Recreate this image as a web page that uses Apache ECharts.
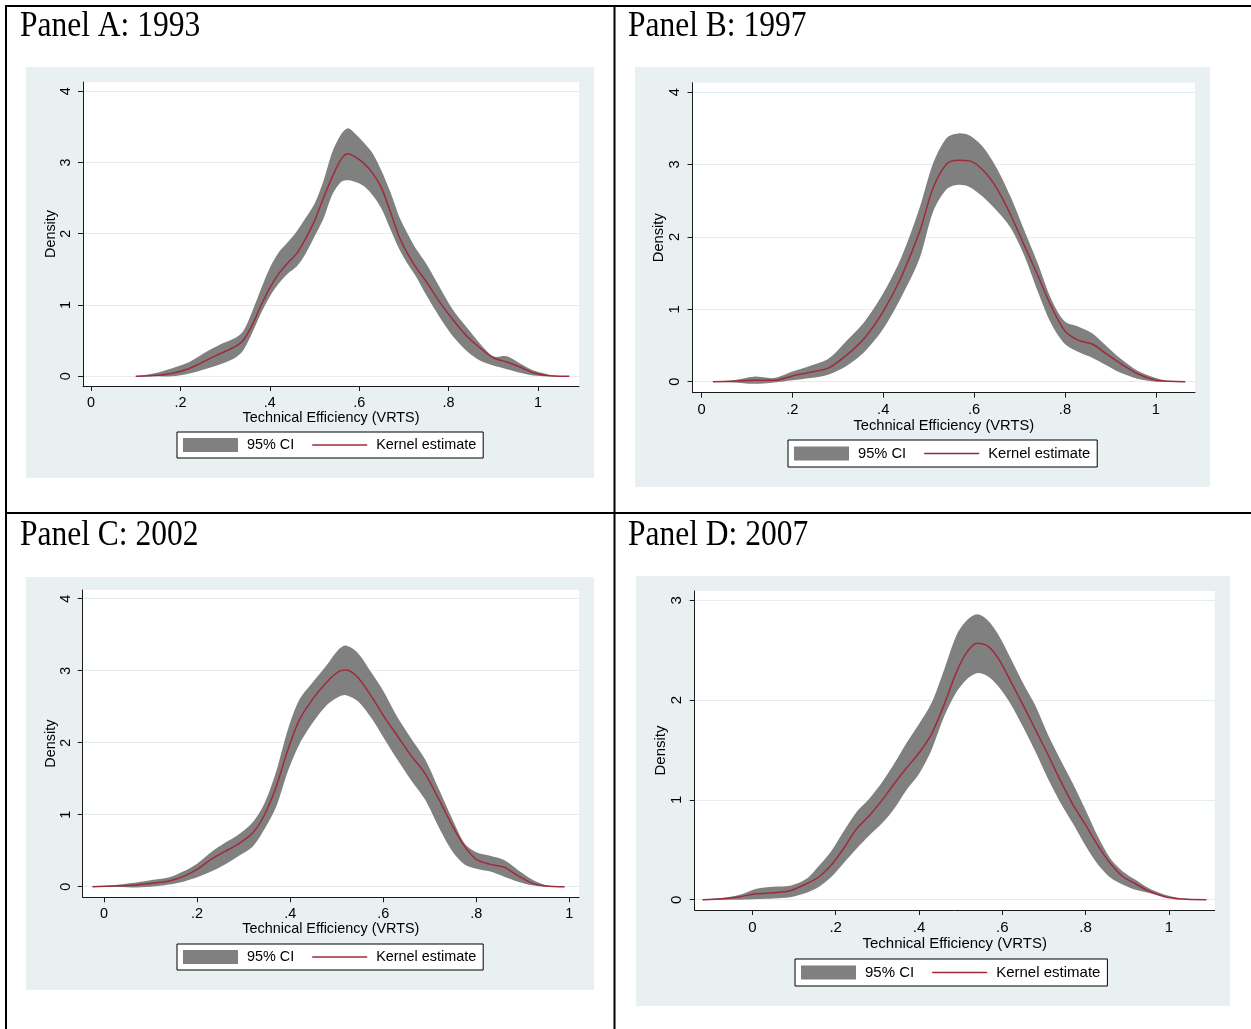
<!DOCTYPE html>
<html>
<head>
<meta charset="utf-8">
<script src="https://cdn.jsdelivr.net/npm/echarts@6.0.0/dist/echarts.min.js"></script>
<style>
  html, body { margin: 0; padding: 0; background: #fff; }
  #chart { width: 1251px; height: 1029px; }
</style>
</head>
<body>
<div id="chart"></div>
<script>
// ---- Kernel density of technical efficiency (VRTS), with 95% confidence band ----

// Panel A: 1993
const xA   = [0.10, 0.14, 0.18, 0.22, 0.26, 0.29, 0.32, 0.34, 0.36, 0.38, 0.40, 0.42, 0.44, 0.46, 0.48, 0.50, 0.52, 0.54, 0.56, 0.575, 0.59, 0.61, 0.63, 0.65, 0.67, 0.69, 0.71, 0.73, 0.75, 0.78, 0.81, 0.84, 0.87, 0.90, 0.93, 0.96, 0.99, 1.02, 1.05, 1.07];
const estA = [0, 0.01, 0.04, 0.11, 0.23, 0.32, 0.41, 0.50, 0.71, 0.99, 1.24, 1.44, 1.59, 1.72, 1.93, 2.18, 2.50, 2.80, 3.05, 3.12, 3.08, 2.99, 2.85, 2.64, 2.30, 1.95, 1.70, 1.50, 1.33, 1.04, 0.79, 0.57, 0.40, 0.26, 0.20, 0.13, 0.05, 0.01, 0, 0];
const hiA  = [0, 0.04, 0.11, 0.20, 0.35, 0.45, 0.53, 0.63, 0.90, 1.22, 1.52, 1.74, 1.88, 2.03, 2.22, 2.42, 2.74, 3.15, 3.40, 3.48, 3.41, 3.28, 3.13, 2.88, 2.58, 2.23, 1.98, 1.76, 1.58, 1.25, 0.93, 0.69, 0.46, 0.28, 0.28, 0.18, 0.08, 0.03, 0, 0];
const loA  = [0, 0, 0, 0.04, 0.11, 0.17, 0.25, 0.36, 0.60, 0.88, 1.12, 1.30, 1.44, 1.54, 1.72, 1.96, 2.21, 2.55, 2.73, 2.75, 2.73, 2.67, 2.54, 2.35, 2.06, 1.78, 1.56, 1.37, 1.14, 0.83, 0.56, 0.36, 0.22, 0.15, 0.10, 0.05, 0.01, 0, 0, 0];

// Panel B: 1997
const xB   = [0.025, 0.07, 0.115, 0.16, 0.20, 0.24, 0.28, 0.32, 0.36, 0.40, 0.44, 0.48, 0.51, 0.54, 0.565, 0.59, 0.62, 0.65, 0.68, 0.71, 0.74, 0.77, 0.80, 0.83, 0.86, 0.89, 0.92, 0.96, 1.00, 1.03, 1.065];
const estB = [0, 0.005, 0.02, 0.02, 0.08, 0.13, 0.19, 0.37, 0.61, 0.97, 1.45, 2.07, 2.68, 3.01, 3.06, 3.05, 2.92, 2.67, 2.31, 1.89, 1.47, 1.04, 0.70, 0.57, 0.52, 0.39, 0.26, 0.11, 0.02, 0.005, 0];
const hiB  = [0, 0.02, 0.07, 0.05, 0.14, 0.22, 0.32, 0.57, 0.84, 1.22, 1.72, 2.40, 3.02, 3.37, 3.43, 3.40, 3.24, 2.95, 2.56, 2.10, 1.64, 1.14, 0.83, 0.76, 0.67, 0.50, 0.33, 0.15, 0.05, 0.01, 0];
const loB  = [0, -0.01, -0.03, -0.01, 0.02, 0.05, 0.10, 0.22, 0.42, 0.73, 1.17, 1.70, 2.35, 2.66, 2.72, 2.69, 2.55, 2.36, 2.13, 1.75, 1.25, 0.80, 0.52, 0.41, 0.33, 0.23, 0.13, 0.04, 0, 0, 0];

// Panel C: 2002
const xC   = [-0.025, 0.02, 0.06, 0.10, 0.14, 0.17, 0.20, 0.23, 0.26, 0.29, 0.32, 0.345, 0.37, 0.395, 0.42, 0.45, 0.48, 0.505, 0.52, 0.545, 0.575, 0.60, 0.63, 0.66, 0.69, 0.72, 0.75, 0.775, 0.80, 0.83, 0.86, 0.89, 0.92, 0.95, 0.99];
const estC = [0, 0.01, 0.02, 0.045, 0.08, 0.14, 0.24, 0.38, 0.49, 0.60, 0.75, 1.00, 1.39, 1.90, 2.32, 2.62, 2.85, 2.99, 3.01, 2.91, 2.64, 2.38, 2.10, 1.82, 1.57, 1.21, 0.83, 0.56, 0.38, 0.31, 0.27, 0.15, 0.05, 0.01, 0];
const hiC  = [0, 0.02, 0.05, 0.09, 0.13, 0.21, 0.32, 0.48, 0.61, 0.73, 0.90, 1.16, 1.60, 2.18, 2.60, 2.85, 3.09, 3.30, 3.35, 3.25, 2.97, 2.72, 2.36, 2.06, 1.77, 1.35, 0.92, 0.60, 0.48, 0.43, 0.37, 0.23, 0.10, 0.02, 0];
const loC  = [0, 0, -0.01, 0, 0.03, 0.07, 0.13, 0.21, 0.31, 0.43, 0.56, 0.80, 1.11, 1.60, 1.98, 2.29, 2.53, 2.64, 2.66, 2.58, 2.34, 2.08, 1.77, 1.48, 1.21, 0.82, 0.48, 0.31, 0.25, 0.21, 0.14, 0.07, 0.02, 0, 0];

// Panel D: 2007
const xD   = [-0.12, -0.07, -0.03, 0.01, 0.05, 0.09, 0.13, 0.16, 0.19, 0.22, 0.25, 0.28, 0.31, 0.34, 0.37, 0.40, 0.43, 0.46, 0.49, 0.515, 0.54, 0.565, 0.59, 0.62, 0.65, 0.68, 0.71, 0.74, 0.77, 0.80, 0.83, 0.86, 0.89, 0.92, 0.95, 0.99, 1.03, 1.09];
const estD = [0, 0.01, 0.03, 0.06, 0.07, 0.09, 0.16, 0.23, 0.35, 0.52, 0.71, 0.84, 0.99, 1.16, 1.32, 1.47, 1.66, 1.95, 2.28, 2.48, 2.57, 2.54, 2.42, 2.19, 1.95, 1.70, 1.45, 1.19, 0.95, 0.75, 0.54, 0.36, 0.23, 0.16, 0.09, 0.03, 0.007, 0];
const hiD  = [0, 0.02, 0.05, 0.11, 0.13, 0.14, 0.21, 0.34, 0.49, 0.69, 0.88, 1.01, 1.17, 1.36, 1.57, 1.76, 1.97, 2.30, 2.65, 2.80, 2.86, 2.80, 2.66, 2.42, 2.17, 1.94, 1.65, 1.40, 1.16, 0.90, 0.63, 0.41, 0.28, 0.20, 0.12, 0.05, 0.015, 0];
const loD  = [0, 0, 0, 0.007, 0.012, 0.025, 0.07, 0.13, 0.23, 0.37, 0.51, 0.64, 0.76, 0.91, 1.10, 1.26, 1.50, 1.83, 2.08, 2.21, 2.27, 2.24, 2.14, 1.96, 1.73, 1.48, 1.21, 0.97, 0.76, 0.54, 0.35, 0.22, 0.15, 0.10, 0.07, 0.03, 0.01, 0];

// Tick positions and texts
const xTicks = [0, 0.2, 0.4, 0.6, 0.8, 1];
const yTicks4 = [0, 1, 2, 3, 4];
const yTicks3 = [0, 1, 2, 3];
const panelTitles = ['Panel A: 1993', 'Panel B: 1997', 'Panel C: 2002', 'Panel D: 2007'];
const xAxisTitle = 'Technical Efficiency (VRTS)';
const yAxisTitle = 'Density';
const bandName = '95% CI';
const lineName = 'Kernel estimate';

// ---- styling ----
const SANS = '"Liberation Sans", Arial, sans-serif';
const SERIF = '"Liberation Serif", "Times New Roman", serif';
const BAND = '#808080';
const RED = '#A02A3A';
const AXIS = '#1a1a1a';
const REGION = '#E8F0F2';
const GRIDLINE = '#E3ECEE';
// plain horizontal stroke used as the legend key of the kernel line
const LINE_KEY = 'path://M0,0 L55,0 L55,1.5 L0,1.5 Z';

// Layout of each graph: outer region, plot area [left, top, width, height], axis ranges, legend spot
const panels = [
  { title: panelTitles[0], x: xA, est: estA, hi: hiA, lo: loA, yTicks: yTicks4,
    titlePos: [20, 27], region: [26, 67, 568, 411], grid: [83, 82, 496, 304],
    xr: [-0.0179, 1.0917], yr: [-0.136, 4.128], legend: [177, 432], font: 14.4 },
  { title: panelTitles[1], x: xB, est: estB, hi: hiB, lo: loB, yTicks: yTicks4,
    titlePos: [628, 27], region: [635, 67, 575, 420], grid: [692.5, 82.7, 502.5, 310],
    xr: [-0.0198, 1.0863], yr: [-0.152, 4.130], legend: [788, 440], font: 14.7 },
  { title: panelTitles[2], x: xC, est: estC, hi: hiC, lo: loC, yTicks: yTicks4,
    titlePos: [20, 536], region: [26, 577, 568, 413], grid: [82.7, 590, 496.3, 307.3],
    xr: [-0.0458, 1.0208], yr: [-0.147, 4.121], legend: [177, 944], font: 14.4 },
  { title: panelTitles[3], x: xD, est: estD, hi: hiD, lo: loD, yTicks: yTicks3,
    titlePos: [628, 536], region: [636, 576, 594, 430], grid: [694.7, 591, 520, 319],
    xr: [-0.1385, 1.110], yr: [-0.103, 3.093], legend: [795, 959], font: 15.0 }
];

const tickText = v => String(v).replace(/^0\./, '.');

const grids = [], xAxes = [], yAxes = [], series = [], legends = [], graphics = [];

panels.forEach((p, i) => {
  grids.push({
    left: p.grid[0], top: p.grid[1], width: p.grid[2], height: p.grid[3],
    show: true, backgroundColor: '#ffffff', borderWidth: 0, containLabel: false
  });

  xAxes.push({
    type: 'value', gridIndex: i, min: p.xr[0], max: p.xr[1],
    axisLine: { show: true, onZero: false, lineStyle: { color: AXIS, width: 1 } },
    axisTick: { show: true, length: 5, customValues: xTicks, lineStyle: { color: AXIS, width: 1 } },
    axisLabel: { customValues: xTicks, formatter: tickText, margin: 10, color: '#000',
                 fontFamily: SANS, fontSize: p.font },
    splitLine: { show: false },
    name: xAxisTitle, nameLocation: 'middle', nameGap: 25,
    nameTextStyle: { color: '#000', fontFamily: SANS, fontSize: p.font }
  });

  yAxes.push({
    type: 'value', gridIndex: i, min: p.yr[0], max: p.yr[1],
    axisLine: { show: true, onZero: false, lineStyle: { color: AXIS, width: 1 } },
    axisTick: { show: true, length: 5, customValues: p.yTicks, lineStyle: { color: AXIS, width: 1 } },
    axisLabel: { customValues: p.yTicks, rotate: 90, margin: 10, color: '#000',
                 fontFamily: SANS, fontSize: p.font },
    splitLine: { show: true, lineStyle: { color: GRIDLINE, width: 1.2 } },
    name: yAxisTitle, nameLocation: 'middle', nameGap: 25,
    nameTextStyle: { color: '#000', fontFamily: SANS, fontSize: p.font }
  });

  // confidence band: upper bound forward, lower bound back
  series.push({
    type: 'custom', name: bandName, xAxisIndex: i, yAxisIndex: i,
    data: [[p.x[0], 0]], silent: true, z: 2,
    itemStyle: { color: BAND },
    renderItem: (params, api) => {
      const pts = [];
      for (let k = 0; k < p.x.length; k++) pts.push(api.coord([p.x[k], p.hi[k]]));
      for (let k = p.x.length - 1; k >= 0; k--) pts.push(api.coord([p.x[k], p.lo[k]]));
      return { type: 'polygon', shape: { points: pts, smooth: 0.3 }, style: { fill: BAND } };
    }
  });

  series.push({
    type: 'line', name: lineName, xAxisIndex: i, yAxisIndex: i,
    data: p.x.map((v, k) => [v, p.est[k]]),
    smooth: 0.3, symbol: 'none', silent: true, z: 3,
    lineStyle: { color: RED, width: 1.5 }, itemStyle: { color: RED }
  });

  legends.push({
    left: p.legend[0], top: p.legend[1], orient: 'horizontal',
    itemWidth: 55, itemHeight: 14, itemGap: 18,
    padding: [6, 7, 6, 6], borderColor: '#000', borderWidth: 1, backgroundColor: '#fff',
    selectedMode: false,
    textStyle: { color: '#000', fontFamily: SANS, fontSize: p.font, padding: [0, 0, 0, 4] },
    data: [{ name: bandName, icon: 'rect' }, { name: lineName, icon: LINE_KEY }]
  });

  graphics.push({
    type: 'rect', silent: true, z: -10,
    shape: { x: p.region[0], y: p.region[1], width: p.region[2], height: p.region[3] },
    style: { fill: REGION }
  });

  graphics.push({
    type: 'text', silent: true, z: 10, x: p.titlePos[0], y: p.titlePos[1], scaleX: 0.9,
    style: { text: p.title, x: 0, y: 0, fill: '#000', font: '35px ' + SERIF,
             textVerticalAlign: 'middle', verticalAlign: 'middle', textAlign: 'left', align: 'left' }
  });
});

// table rules separating the four panels
const rule = (x1, y1, x2, y2) => ({
  type: 'line', silent: true, z: 20,
  shape: { x1, y1, x2, y2 }, style: { stroke: '#000', lineWidth: 2 }
});
graphics.push(rule(5, 6, 1251, 6));
graphics.push(rule(6, 5, 6, 1029));
graphics.push(rule(614.5, 6, 614.5, 1029));
graphics.push(rule(5, 513, 1251, 513));

const chart = echarts.init(document.getElementById('chart'), null, { renderer: 'canvas' });
chart.setOption({
  animation: false,
  backgroundColor: '#ffffff',
  grid: grids,
  xAxis: xAxes,
  yAxis: yAxes,
  legend: legends,
  series: series,
  graphic: { elements: graphics }
});
</script>
</body>
</html>
